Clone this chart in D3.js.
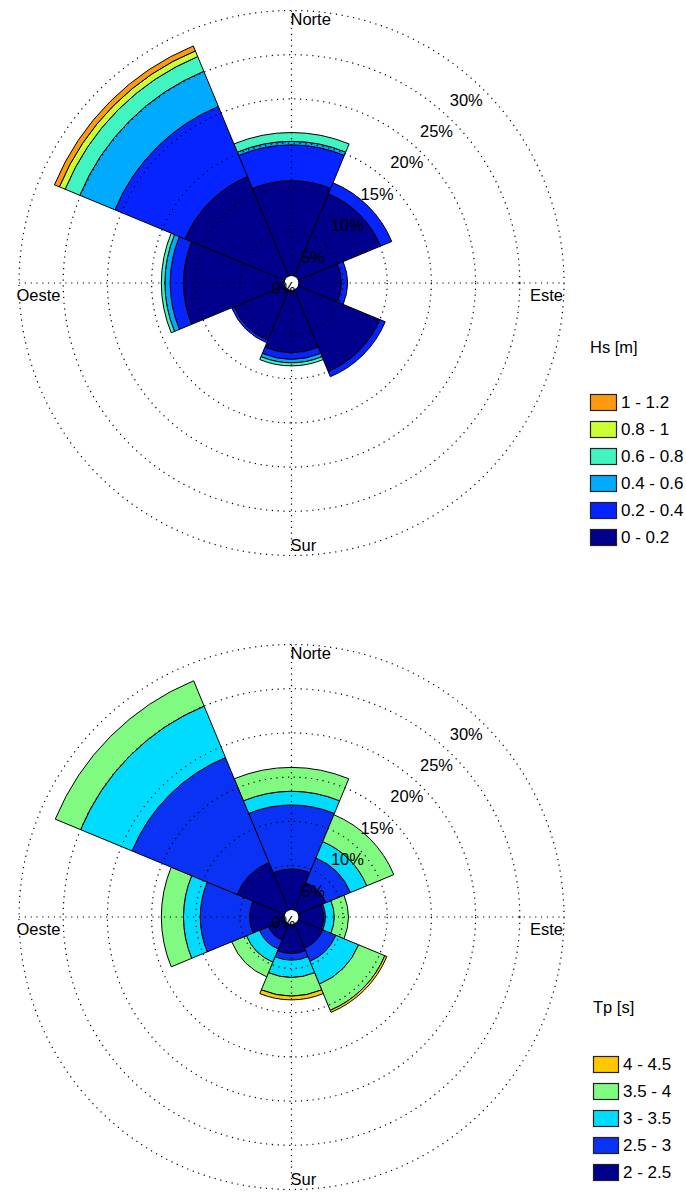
<!DOCTYPE html>
<html>
<head>
<meta charset="utf-8">
<script src="https://cdn.jsdelivr.net/npm/d3@7"></script>
<style>
  html, body { margin: 0; padding: 0; background: #fff; }
  svg text { font-family: "Liberation Sans", Arial, sans-serif; fill: #000; }
</style>
</head>
<body>
<svg id="chart" width="686" height="1195"></svg>
<script>
// Sector directions (compass degrees, clockwise from north)
const directions = ["N", "NE", "E", "SE", "S", "SW", "W", "NW"];
const directionDeg = [0, 45, 90, 135, 180, 225, 270, 315];

// Frequency rings (%)
const ringTicks = [5, 10, 15, 20, 25, 30];
const ringLabels = [0, 5, 10, 15, 20, 25, 30];
const cardinalNames = ["Norte", "Este", "Sur", "Oeste"];

// Significant wave height classes, frequency (%) per direction N..NW
const hsClasses = ["0 - 0.2", "0.2 - 0.4", "0.4 - 0.6", "0.6 - 0.8", "0.8 - 1", "1 - 1.2"];
const hs_0_02   = [10.75, 10.1, 4.8, 10.0, 7.05, 6.2, 11.4, 12.2];
const hs_02_04  = [4.05, 1.35, 0.7, 0.65, 0.75, 0.3, 1.5, 8.6];
const hs_04_06  = [0.4, 0, 0, 0, 0.4, 0, 0.6, 4.3];
const hs_06_08  = [1.0, 0, 0, 0, 0.35, 0, 0.4, 1.8];
const hs_08_1   = [0, 0, 0, 0, 0, 0, 0, 0.7];
const hs_1_12   = [0, 0, 0, 0, 0, 0, 0, 0.6];
const hsColors  = ["#00008c", "#0624ff", "#00aaff", "#40f5bf", "#ccff33", "#ff9a10"];

// Peak period classes, frequency (%) per direction N..NW
const tpClasses = ["2 - 2.5", "2.5 - 3", "3 - 3.5", "3.5 - 4", "4 - 4.5"];
const tp_20_25  = [4.6, 3.4, 2.8, 3.0, 3.3, 2.0, 3.9, 5.85];
const tp_25_30  = [7.25, 3.0, 0.2, 1.6, 0.75, 1.1, 5.6, 12.85];
const tp_30_35  = [1.55, 2.0, 1.0, 2.8, 1.95, 1.6, 1.9, 6.3];
const tp_35_40  = [2.7, 3.3, 1.6, 3.2, 2.1, 1.8, 2.5, 3.1];
const tp_40_45  = [0, 0, 0, 0.25, 0.45, 0, 0, 0];
const tpColors  = ["#00008c", "#0a32f5", "#00dcff", "#80fa80", "#ffc800"];

const svg = d3.select("#chart");
const sectorWidth = 45;
const hole = 7.3;
const outer = 272.5;

function drawRose(cfg) {
  const { cx, cy, series, classes, colors, title, legend } = cfg;
  const g = svg.append("g").attr("transform", `translate(${cx},${cy})`);
  const r = d3.scaleLinear().domain([0, 30]).range([hole, outer]);
  const rad = d => d * Math.PI / 180;

  // stacked bands per direction
  const arc = d3.arc();
  const bands = [];
  directions.forEach((dir, i) => {
    let acc = 0;
    series.forEach((vals, k) => {
      const v = vals[i];
      if (v > 0) {
        bands.push({
          innerRadius: r(acc), outerRadius: r(acc + v),
          startAngle: rad(directionDeg[i] - sectorWidth / 2),
          endAngle: rad(directionDeg[i] + sectorWidth / 2),
          color: colors[k]
        });
      }
      acc += v;
    });
  });
  g.selectAll("path.band").data(bands).join("path")
    .attr("class", "band")
    .attr("d", arc)
    .attr("fill", d => d.color)
    .attr("stroke", "#000")
    .attr("stroke-width", 1)
    .attr("stroke-linejoin", "round");

  // dotted grid over the bars
  const dots = "1.2 4.6";
  g.selectAll("circle.ring").data(ringTicks).join("circle")
    .attr("class", "ring")
    .attr("r", d => r(d))
    .attr("fill", "none").attr("stroke", "#000")
    .attr("stroke-width", 1.2).attr("stroke-dasharray", dots);
  g.append("line").attr("x1", -r(30)).attr("x2", r(30)).attr("y1", 0).attr("y2", 0)
    .attr("stroke", "#000").attr("stroke-width", 1.2).attr("stroke-dasharray", dots);
  g.append("line").attr("x1", 0).attr("x2", 0).attr("y1", -r(30)).attr("y2", r(30))
    .attr("stroke", "#000").attr("stroke-width", 1.2).attr("stroke-dasharray", dots);

  // centre hole
  g.append("circle").attr("r", hole - 0.5).attr("fill", "#fff");

  // ring labels along the NE diagonal
  g.selectAll("text.pct").data(ringLabels).join("text")
    .attr("class", "pct")
    .attr("x", d => -20 + (r(d) - hole) * 0.672)
    .attr("y", d => 5 - (r(d) - hole) * 0.71)
    .attr("dominant-baseline", "central")
    .attr("font-size", 16.5)
    .text(d => d + "%");

  // cardinal labels
  const cardPos = [[-1, -264], [238.5, 12], [-1, 262], [-275, 12]];
  g.selectAll("text.card").data(cardinalNames).join("text")
    .attr("class", "card")
    .attr("x", (d, i) => cardPos[i][0])
    .attr("y", (d, i) => cardPos[i][1])
    .attr("dominant-baseline", "central")
    .attr("font-size", 16.5)
    .text(d => d);

  // legend, highest class on top
  const lg = svg.append("g");
  lg.append("text").attr("x", legend.x).attr("y", legend.titleY)
    .attr("dominant-baseline", "central").attr("font-size", 16.5).text(title);
  const items = classes.map((c, k) => ({ label: c, color: colors[k] })).reverse();
  const row = lg.selectAll("g.item").data(items).join("g")
    .attr("class", "item")
    .attr("transform", (d, i) => `translate(${legend.x},${legend.firstY + i * 27})`);
  row.append("rect").attr("x", 0.5).attr("y", -8).attr("width", legend.boxW).attr("height", 16)
    .attr("fill", d => d.color).attr("stroke", "#222").attr("stroke-width", 1.2);
  row.append("text").attr("x", legend.textX).attr("y", 0)
    .attr("dominant-baseline", "central").attr("font-size", 17).text(d => d.label);
}

drawRose({
  cx: 291.5, cy: 283,
  series: [hs_0_02, hs_02_04, hs_04_06, hs_06_08, hs_08_1, hs_1_12],
  classes: hsClasses, colors: hsColors, title: "Hs [m]",
  legend: { x: 590, titleY: 347, firstY: 402.5, boxW: 26, textX: 31 }
});

drawRose({
  cx: 291.5, cy: 917,
  series: [tp_20_25, tp_25_30, tp_30_35, tp_35_40, tp_40_45],
  classes: tpClasses, colors: tpColors, title: "Tp [s]",
  legend: { x: 593, titleY: 1007, firstY: 1064.5, boxW: 25, textX: 30 }
});
</script>
</body>
</html>
